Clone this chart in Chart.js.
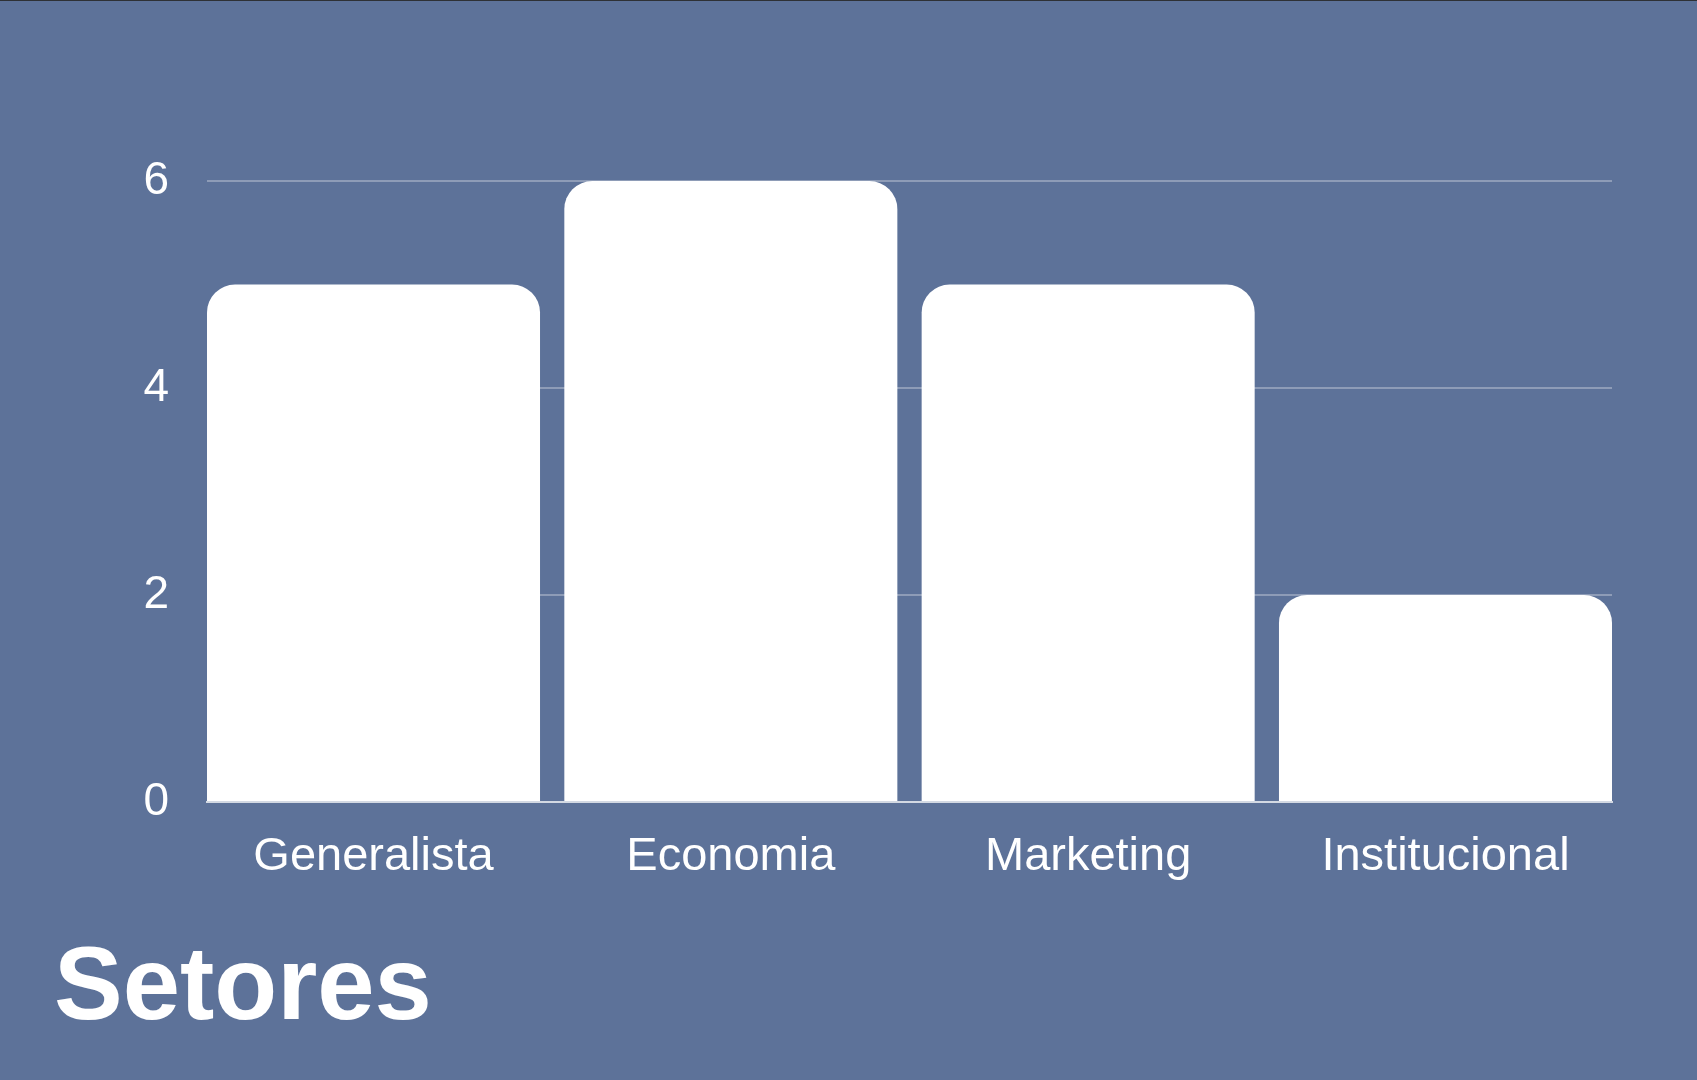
<!DOCTYPE html>
<html lang="pt">
<head>
<meta charset="utf-8">
<title>Setores</title>
<script src="https://cdn.jsdelivr.net/npm/chart.js@4.4.0/dist/chart.umd.min.js"></script>
<style>
    html, body { margin: 0; padding: 0; background: #5d7299; }
    #wrap {
        width: 1697px;
        height: 1080px;
        background: #5d7299;
        box-shadow: inset 0 1px 0 #2e3135;
    }
</style>
</head>
<body>
<div id="wrap"><canvas id="bar-chart"></canvas></div>
<script>
// Dados do gráfico
const categorias = ['Generalista', 'Economia', 'Marketing', 'Institucional'];
const valores = [5, 6, 5, 2];
const ticksY = [0, 2, 4, 6];

const fonte = '"Liberation Sans", Arial, sans-serif';
const larguraBarra = 0.932; // fração do espaço de cada categoria

document.addEventListener('DOMContentLoaded', function () {
    const ctx = document.getElementById('bar-chart').getContext('2d');

    new Chart(ctx, {
        type: 'bar',
        data: {
            datasets: [{
                label: 'Setores',
                // eixo x linear para que as barras encostem nas bordas da área
                data: categorias.map((c, i) => ({ x: i, y: valores[i] })),
                backgroundColor: '#ffffff',
                borderWidth: 0,
                borderRadius: 28,
                borderSkipped: 'start',
                barPercentage: larguraBarra,
                categoryPercentage: 1
            }]
        },
        options: {
            responsive: true,
            maintainAspectRatio: false,
            animation: false,
            layout: {
                padding: { top: 181, left: 54, right: 85, bottom: 0 }
            },
            plugins: {
                legend: { display: false },
                tooltip: { enabled: false },
                title: {
                    display: true,
                    text: 'Setores',
                    position: 'bottom',
                    align: 'start',
                    color: '#ffffff',
                    font: { family: fonte, size: 103, weight: 'bold', lineHeight: 1.2 },
                    padding: { top: 24, bottom: 28 }
                }
            },
            scales: {
                x: {
                    type: 'linear',
                    offset: false,
                    min: -larguraBarra / 2,
                    max: categorias.length - 1 + larguraBarra / 2,
                    afterBuildTicks: scale => {
                        scale.ticks = categorias.map((c, i) => ({ value: i }));
                    },
                    grid: { display: false, offset: false },
                    border: { display: true, color: '#d3d9e3', width: 2 },
                    ticks: {
                        color: '#ffffff',
                        padding: 19,
                        maxRotation: 0,
                        autoSkip: false,
                        font: { family: fonte, size: 47 },
                        callback: v => categorias[v]
                    }
                },
                y: {
                    min: 0,
                    max: 6,
                    afterBuildTicks: scale => {
                        scale.ticks = ticksY.map(v => ({ value: v }));
                    },
                    afterFit: scale => {
                        scale.width = 153;
                    },
                    grid: {
                        color: 'rgba(255, 255, 255, 0.3)',
                        lineWidth: 2,
                        drawTicks: false
                    },
                    border: { display: false },
                    ticks: {
                        color: '#ffffff',
                        padding: 38,
                        font: { family: fonte, size: 46 }
                    }
                }
            }
        }
    });
});
</script>
</body>
</html>
